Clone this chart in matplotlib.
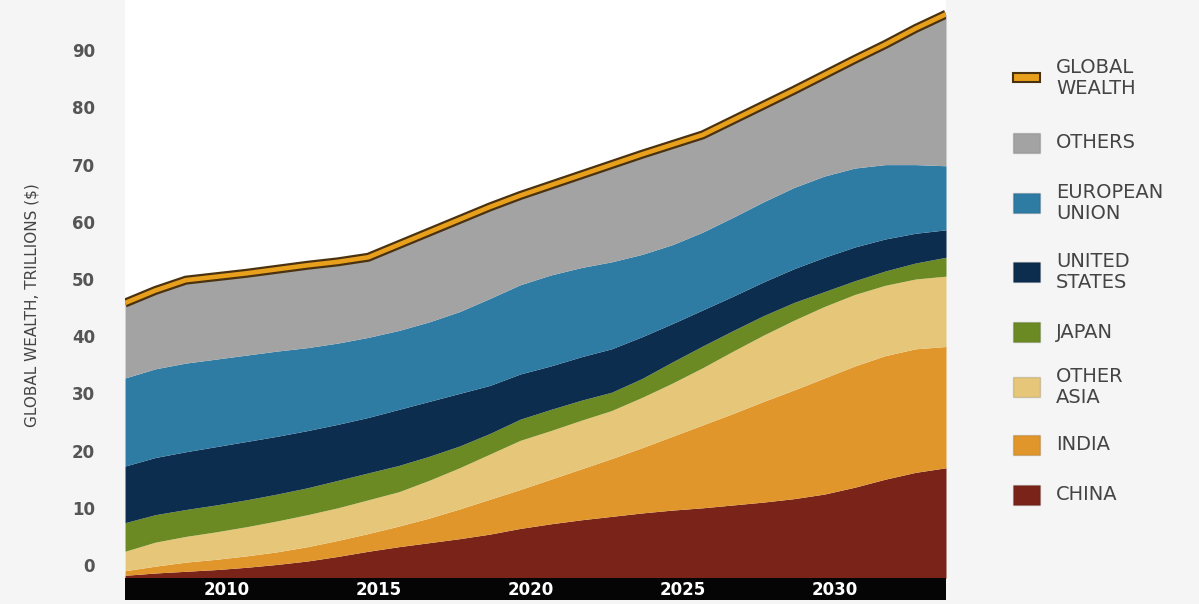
import matplotlib
matplotlib.use('Agg')
import matplotlib.pyplot as plt
import matplotlib.patheffects as pe
import matplotlib.transforms as mtransforms
from matplotlib.patches import Rectangle
import numpy as np

# data, trillions of $, stacked bottom -> top
years = list(range(2007, 2035))
base = -2.3

china = [0.5, 0.9, 1.2, 1.5, 1.9, 2.4, 3.0, 3.8, 4.7, 5.5, 6.2, 6.9, 7.7, 8.7,
         9.5, 10.2, 10.8, 11.4, 11.9, 12.3, 12.8, 13.3, 13.9, 14.7, 15.9, 17.3, 18.5, 19.3]
india = [0.8, 1.2, 1.6, 1.8, 2.0, 2.2, 2.5, 2.8, 3.1, 3.6, 4.3, 5.2, 6.1, 6.8,
         7.8, 8.9, 10.1, 11.4, 12.9, 14.5, 16.0, 17.6, 19.0, 20.3, 21.2, 21.6, 21.6, 21.2]
other_asia = [3.4, 4.2, 4.5, 4.8, 5.1, 5.4, 5.6, 5.7, 5.9, 6.0, 6.6, 7.2, 7.9, 8.6,
              8.5, 8.5, 8.4, 8.8, 9.3, 10.0, 10.9, 11.6, 12.2, 12.5, 12.5, 12.3, 12.2, 12.3]
japan = [5.0, 4.8, 4.7, 4.7, 4.7, 4.7, 4.7, 4.8, 4.7, 4.6, 4.2, 3.8, 3.6, 3.7,
         3.7, 3.5, 3.2, 3.3, 3.7, 3.8, 3.6, 3.4, 3.1, 2.6, 2.4, 2.5, 2.8, 3.3]
united_states = [9.9, 10.0, 10.1, 10.2, 10.2, 10.1, 10.0, 9.8, 9.7, 9.8, 9.6, 9.2, 8.4, 7.9,
                 7.6, 7.6, 7.6, 7.3, 6.7, 6.3, 6.0, 5.9, 5.9, 6.0, 5.9, 5.6, 5.2, 4.8]
european_union = [15.4, 15.5, 15.5, 15.3, 15.1, 14.9, 14.5, 14.2, 14.0, 13.8, 13.9, 14.3, 15.2, 15.6,
                  15.9, 15.6, 15.2, 14.4, 13.8, 13.6, 13.8, 14.0, 14.2, 14.2, 13.8, 13.0, 12.0, 11.2]
others = [13.1, 13.7, 14.5, 14.4, 14.3, 14.3, 14.4, 14.2, 14.0, 15.0, 15.7, 16.1, 16.0, 15.6,
          15.7, 16.2, 17.0, 17.5, 17.5, 17.0, 17.0, 16.9, 17.0, 17.7, 19.0, 21.0, 23.8, 26.5]

series = [china, india, other_asia, japan, united_states, european_union, others]
names = ['CHINA', 'INDIA', 'OTHER\nASIA', 'JAPAN', 'UNITED\nSTATES', 'EUROPEAN\nUNION', 'OTHERS']
colors = ['#7a2318', '#e0962a', '#e6c77a', '#6b8a23', '#0c2d4e', '#2e7ba4', '#a3a3a3']

W, H = 1199, 604
fig = plt.figure(figsize=(W / 100, H / 100), dpi=100, facecolor='#f5f5f5')
ax = fig.add_axes([125 / W, 4 / H, 821 / W, 600 / H])
ax.set_facecolor('white')

bottom = np.full(len(years), base)
for vals, col in zip(series, colors):
    top = bottom + np.array(vals)
    ax.fill_between(years, bottom, top, color=col, lw=0, zorder=2)
    bottom = top
total = bottom

ax.plot(years, total, color='#e8a01c', lw=3.3, zorder=4, solid_capstyle='butt',
        path_effects=[pe.Stroke(linewidth=6.5, foreground='#4a3210'), pe.Normal()])

# black year strip under the areas
ax.axhspan(-6.12, base, color='#050505', lw=0, zorder=3)

ax.set_xlim(2007, 2034)
ax.set_ylim(-6.12, 98.78)
for s in ax.spines.values():
    s.set_visible(False)

ax.set_yticks(range(0, 100, 10))
ax.tick_params(axis='y', length=0, pad=21.6, labelsize=12, labelcolor='#555555')
for lbl in ax.get_yticklabels():
    lbl.set_fontweight('bold')

ax.set_xticks([2010, 2015, 2020, 2025, 2030])
ax.tick_params(axis='x', length=0, pad=-7.5, labelsize=12, labelcolor='white')
ax.xaxis.set_zorder(6)
shift = mtransforms.ScaledTranslation(0.10, 0, fig.dpi_scale_trans)
for lbl in ax.get_xticklabels():
    lbl.set_fontweight('bold')
    lbl.set_va('center')
    lbl.set_transform(lbl.get_transform() + shift)

fig.text(32 / W, 1 - 305 / H, 'GLOBAL WEALTH, TRILLIONS ($)', rotation=90,
         ha='center', va='center', fontsize=11, color='#444444')

# legend, drawn by hand in pixel positions
def px(x, y):
    return x / W, 1 - y / H

fig.add_artist(Rectangle(px(1013, 82), 27 / W, 9 / H, transform=fig.transFigure,
                         facecolor='#e8a01c', edgecolor='#4a3210', lw=1.5))
fig.text(*px(1056, 78), 'GLOBAL\nWEALTH', ha='left', va='center', fontsize=14,
         color='#444444', linespacing=1.1)

leg_y = [495, 445, 387, 332, 272, 203, 143]
for name, col, yc in zip(names, colors, leg_y):
    fig.add_artist(Rectangle(px(1013, yc + 10), 27 / W, 20 / H, transform=fig.transFigure,
                             facecolor=col, edgecolor='#00000022', lw=1))
    fig.text(*px(1056, yc), name, ha='left', va='center', fontsize=14,
             color='#444444', linespacing=1.1)

fig.savefig('out.png', dpi=100, facecolor=fig.get_facecolor())
